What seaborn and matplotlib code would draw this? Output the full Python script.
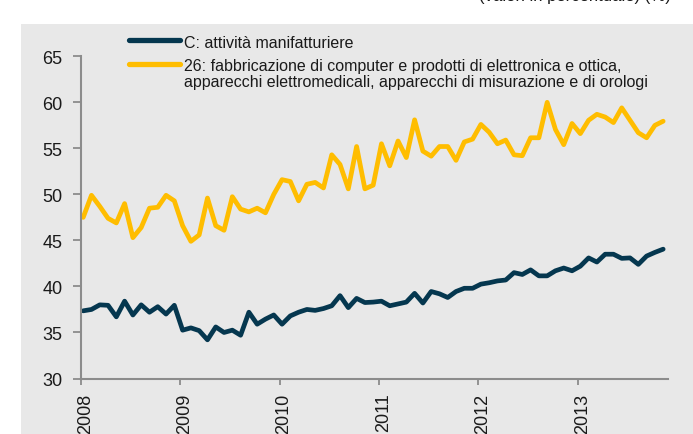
import numpy as np
import pandas as pd
import matplotlib.pyplot as plt
import matplotlib.transforms as mtransforms
from matplotlib.lines import Line2D
from matplotlib.patches import Rectangle
import seaborn as sns

# monthly series, Jan 2008 - Nov 2013
mesi = pd.date_range("2008-01-01", periods=71, freq="MS")

manifattura = [37.35, 37.5, 38.0, 37.95, 36.7, 38.4, 36.9, 38.0, 37.2, 37.8, 37.0, 37.95,
               35.25, 35.5, 35.2, 34.2, 35.6, 35.0, 35.25, 34.7, 37.2, 35.9, 36.45, 36.9,
               35.9, 36.8, 37.2, 37.5, 37.4, 37.6, 37.9, 39.0, 37.7, 38.7, 38.25, 38.3,
               38.4, 37.9, 38.1, 38.3, 39.25, 38.2, 39.45, 39.2, 38.8, 39.45, 39.8, 39.8,
               40.25, 40.4, 40.6, 40.7, 41.5, 41.3, 41.8, 41.15, 41.15, 41.7, 42.0, 41.7,
               42.2, 43.1, 42.65, 43.5, 43.5, 43.05, 43.1, 42.4, 43.3, 43.7, 44.05]

elettronica = [47.5, 49.9, 48.7, 47.4, 46.9, 49.0, 45.3, 46.4, 48.5, 48.6, 49.9, 49.3,
               46.6, 44.9, 45.6, 49.6, 46.6, 46.1, 49.75, 48.4, 48.1, 48.5, 48.0, 50.0,
               51.6, 51.4, 49.3, 51.1, 51.3, 50.7, 54.3, 53.25, 50.6, 55.2, 50.6, 51.0,
               55.5, 53.1, 55.8, 54.0, 58.1, 54.7, 54.15, 55.2, 55.2, 53.7, 55.7, 56.0,
               57.6, 56.75, 55.5, 55.9, 54.3, 54.2, 56.15, 56.15, 60.0, 57.05, 55.4, 57.7,
               56.6, 58.05, 58.7, 58.4, 57.8, 59.4, 58.05, 56.7, 56.15, 57.5, 57.95]

anni = [2008, 2009, 2010, 2011, 2012, 2013]
y_ticks = [30, 35, 40, 45, 50, 55, 60, 65]

lab_c = "C: attività manifatturiere"
lab_26 = ["26: fabbricazione di computer e prodotti di elettronica e ottica,",
          "apparecchi elettromedicali, apparecchi di misurazione e di orologi"]
titolo = "(valori in percentuale) (%)"

blu = '#05374f'
giallo = '#ffbd00'
grigio = '#e8e8e8'
testo = '#1a1a1a'
assi = '#8c8c8c'

sns.set_style("white")
plt.rcParams['font.family'] = ['Liberation Sans', 'DejaVu Sans']

df = pd.DataFrame({
    'anno': mesi.year + (mesi.month - 1 + 0.3) / 12,
    'C': manifattura,
    '26': elettronica,
})

W, H = 693, 435
fig = plt.figure(figsize=(W / 100, H / 100), dpi=100)
fig.patches.append(Rectangle((21 / W, 0), 1, (H - 25) / H, transform=fig.transFigure,
                             facecolor=grigio, edgecolor='none', zorder=-5))

ax = fig.add_axes([80.7 / W, 55.5 / H, 587.6 / W, 322.2 / H])
ax.set_facecolor('none')
ax.set_zorder(2)

sns.lineplot(data=df, x='anno', y='26', color=giallo, lw=3.4, ax=ax,
             solid_joinstyle='round', solid_capstyle='round')
sns.lineplot(data=df, x='anno', y='C', color=blu, lw=3.4, ax=ax,
             solid_joinstyle='round', solid_capstyle='round')

ax.set_xlim(2008, 2013.91)
ax.set_ylim(30, 65)
ax.set_xticks(anni)
ax.set_xticklabels([str(a) for a in anni], rotation=90)
ax.set_yticks(y_ticks)
ax.set_xlabel('')
ax.set_ylabel('')

for s in ['top', 'right']:
    ax.spines[s].set_visible(False)
for s in ['left', 'bottom']:
    ax.spines[s].set_color(assi)
    ax.spines[s].set_linewidth(1.5)

ax.tick_params(axis='both', bottom=True, left=True, direction='out', color=assi,
               width=1.3, labelsize=13, labelcolor=testo)
ax.tick_params(axis='y', length=5.5, pad=7.5)
ax.tick_params(axis='x', length=4, pad=6)

off = mtransforms.ScaledTranslation(4.5 / 100, 0, fig.dpi_scale_trans)
for lbl in ax.get_xticklabels():
    lbl.set_transform(lbl.get_transform() + off)

# legend
fig.add_artist(Line2D([129 / W, 180 / W], [1 - 41 / H] * 2, color=blu, lw=3.8,
                      solid_capstyle='round'))
fig.text(184 / W, 1 - 48 / H, lab_c, fontsize=11.5, color=testo, va='baseline')
fig.add_artist(Line2D([129 / W, 180 / W], [1 - 65 / H] * 2, color=giallo, lw=3.8,
                      solid_capstyle='round'))
fig.text(184 / W, 1 - 70.5 / H, lab_26[0], fontsize=11.5, color=testo, va='baseline')
fig.text(184 / W, 1 - 87 / H, lab_26[1], fontsize=11.5, color=testo, va='baseline')

# header text cut by the top edge, as in the source picture
fig.text(671 / W, 1 - 0.5 / H, titolo, fontsize=12, color=testo, ha='right', va='baseline')

fig.savefig('out.png', dpi=100)
